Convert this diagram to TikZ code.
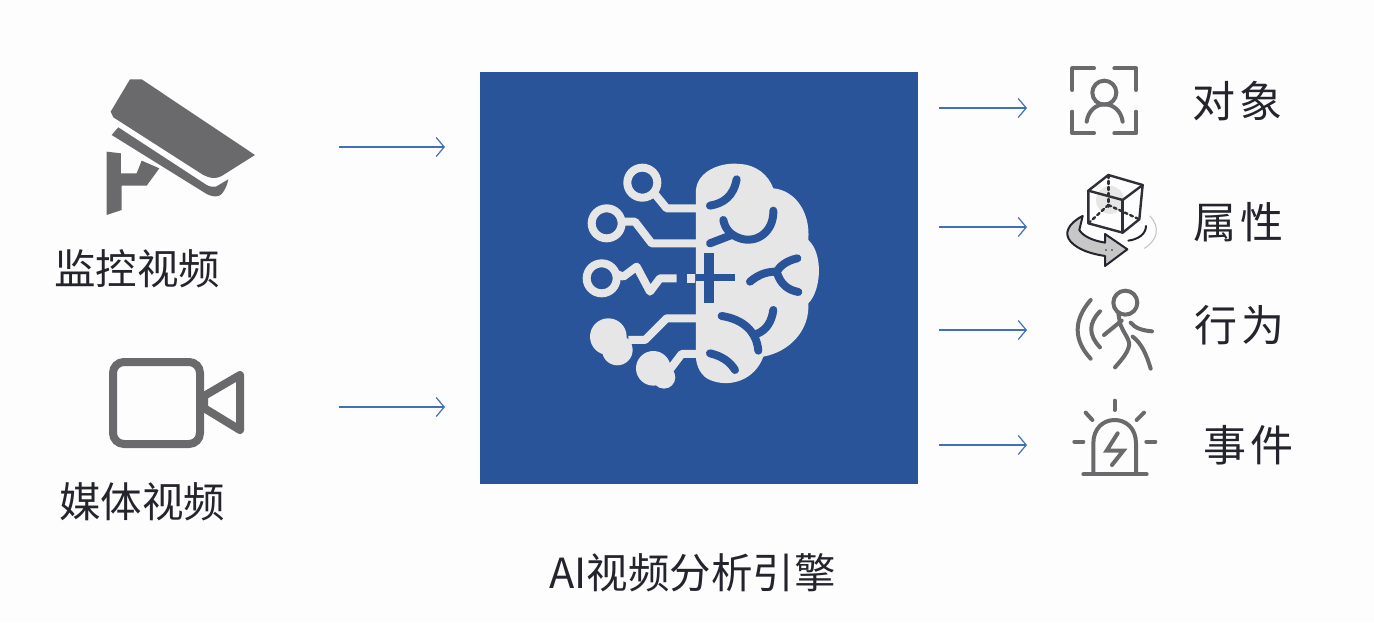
\documentclass[tikz,border=0pt]{standalone}
\usepackage{fontspec}
\setmainfont{Noto Sans CJK SC}
\usetikzlibrary{arrows.meta}
\definecolor{bluebox}{HTML}{29549A}
\definecolor{lightg}{HTML}{E6E6E6}
\definecolor{gicon}{HTML}{6A6A6C}
\definecolor{garrow}{HTML}{3F70B8}
\definecolor{txt}{HTML}{24242C}
\definecolor{bgc}{HTML}{FDFDFE}
\tikzset{
  flow/.style={draw=garrow,line width=1.2pt,-{Straight Barb[length=8pt,width=19pt,line width=1.2pt]}},
  lab/.style={text=txt,inner sep=0pt,font=\fontsize{41.5}{42}\selectfont},
  labw/.style={text=txt,inner sep=0pt,font=\fontsize{43}{43}\selectfont},
  circ/.style={draw=lightg,line width=8pt,line join=round},
  brainline/.style={draw=bluebox,line width=8pt,line cap=round},
  ico/.style={draw=gicon,line width=4pt,line cap=round,line join=round},
  icothin/.style={draw=txt!85!gicon,line width=2.4pt,line cap=round,line join=round}
}
\begin{document}
\begin{tikzpicture}[x=1pt,y=-1pt]
\useasboundingbox (0,0) rectangle (1374,622);
\fill[bgc] (0,0) rectangle (1374,622);
\node[draw=bluebox,fill=bluebox,line width=0.5pt,minimum width=437pt,minimum height=411pt,inner sep=0pt] (engine) at (698.5,277.5) {};

% brain
\begin{scope}[shift={(560,140)},x=0.3333pt,y=-0.3333pt]
\fill[lightg] (408,150) .. controls (412,95) and (480,65) .. (540,72) .. controls (590,75) and (625,105) .. (640,145)
 .. controls (700,150) and (752,210) .. (745,300) .. controls (790,340) and (785,450) .. (745,490)
 .. controls (750,570) and (690,635) .. (610,650) .. controls (585,720) and (510,745) .. (450,720)
 .. controls (425,710) and (408,680) .. (408,650) -- cycle;
\path[brainline] (530,118) .. controls (520,170) and (490,190) .. (450,197);
\path[brainline] (640,212) .. controls (642,275) and (590,312) .. (540,295) .. controls (510,285) and (495,265) .. (490,240);
\path[brainline] (515,285) -- (450,310);
\path[draw=bluebox,line width=10pt] (448,340) -- (448,490);
\path[draw=bluebox,line width=7.5pt] (408,413) -- (525,413);
\path[brainline] (570,425) .. controls (600,400) and (625,395) .. (650,395);
\path[brainline] (712,355) .. controls (680,362) and (660,378) .. (650,395) .. controls (662,435) and (685,450) .. (715,456);
\path[brainline] (485,528) .. controls (550,538) and (590,575) .. (595,632);
\path[brainline] (640,510) .. controls (635,545) and (620,570) .. (590,582);
\path[brainline] (450,640) .. controls (485,648) and (510,665) .. (525,690);
% circuit lines
\draw[circ] (247,128) circle (45);
\draw[circ] (140,250) circle (45);
\draw[circ] (125,415) circle (45);
\draw[circ] (283,160) -- (320,205) -- (408,205);
\draw[circ] (183,245) -- (225,245) -- (275,310) -- (408,310);
\draw[circ] (165,400) -- (190,410) -- (230,380) -- (270,455) -- (300,415) -- (350,415);
\fill[lightg] (380,403) rectangle (405,428);
\fill[lightg] (145,590) circle (55) (172,630) circle (46);
\draw[circ] (205,600) -- (255,600) -- (320,535) -- (408,535);
\fill[lightg] (280,685) circle (52) (312,712) circle (34);
\draw[circ] (325,695) -- (365,642) -- (408,642);
\end{scope}

% cctv camera
\begin{scope}[shift={(90,70)},x=0.3333pt,y=-0.3333pt]
\fill[gicon] (120,28) -- (155,28) -- (495,255) -- (395,318) .. controls (375,328) and (360,325) .. (340,315) -- (70,142) -- (62,125) -- cycle;
\fill[gicon] (85,172) -- (65,195) -- (350,372) .. controls (370,382) and (385,382) .. (395,372) .. controls (405,360) and (412,345) .. (415,328) -- (378,350) .. controls (370,352) and (360,350) .. (350,345) -- cycle;
\fill[gicon] (50,245) -- (93,250) -- (93,310) -- (140,310) -- (155,272) -- (208,295) -- (170,347) -- (95,347) -- (95,420) -- (50,435) -- cycle;
\end{scope}

% video camera
\draw[draw=gicon,line width=8pt,rounded corners=11pt] (113,362) rectangle (200,444);
\draw[draw=gicon,line width=8pt,line join=round] (204,396) -- (240,375) -- (240,430) -- (204,408) -- cycle;

% person
\begin{scope}[shift={(1050,50)},x=0.3333pt,y=-0.3333pt]
\path[ico] (67,120) -- (67,55) -- (132,55);
\path[ico] (193,55) -- (258,55) -- (258,120);
\path[ico] (67,185) -- (67,250) -- (132,250);
\path[ico] (258,185) -- (258,250) -- (193,250);
\draw[ico] (163,128) circle (36);
\path[ico] (110,215) .. controls (115,180) and (140,163) .. (163,163) .. controls (188,163) and (213,180) .. (218,215);
% cube
\fill[lightg] (180,450) ellipse (42 and 42);
\path[icothin] (175,375) -- (278,405) -- (268,508) -- (218,548) -- (115,520) -- (115,422) -- cycle;
\path[icothin] (115,422) -- (218,450) -- (278,405);
\path[icothin] (218,450) -- (218,548);
\path[icothin,dashed] (175,375) -- (175,470);
\path[icothin,dashed] (175,465) -- (115,520);
\path[icothin,dashed] (175,465) -- (268,508);
\fill[lightg!75!gicon,draw=txt,line width=2pt,line join=round] (98,498) .. controls (55,520) and (40,550) .. (62,575) .. controls (85,600) and (125,612) .. (165,618) -- (165,648) -- (232,598) -- (165,552) -- (165,578) .. controls (130,572) and (100,560) .. (88,540) -- cycle;
\path[draw=txt,line width=2pt,line cap=round] (235,572) .. controls (265,568) and (288,552) .. (288,528);
\path[draw=lightg!70!gicon,line width=1pt,line cap=round] (300,498) .. controls (330,530) and (325,570) .. (283,595);
\fill[txt] (168,600) circle (2.5) (186,600) circle (2.5);
\end{scope}

% walker
\begin{scope}[shift={(1050,280)},x=0.3333pt,y=-0.3333pt]
\draw[ico] (226,68) circle (36);
\path[ico] (122,60) .. controls (70,120) and (70,180) .. (122,236);
\path[ico] (150,94) .. controls (115,130) and (115,165) .. (150,202);
\path[ico] (205,100) -- (210,130) .. controls (222,165) and (245,180) .. (235,205) .. controls (228,225) and (210,245) .. (195,262);
\path[ico] (215,122) -- (162,165);
\path[ico] (242,128) .. controls (255,145) and (280,152) .. (306,154);
\path[ico] (248,170) .. controls (275,190) and (290,225) .. (302,266);
% alarm
\path[ico] (194,362) -- (194,390);
\path[ico] (107,398) -- (127,420);
\path[ico] (282,398) -- (260,420);
\path[ico] (73,485) -- (100,485);
\path[ico] (289,485) -- (316,485);
\path[ico] (130,582) -- (130,490) .. controls (130,445) and (160,420) .. (194,420) .. controls (228,420) and (258,445) .. (258,490) -- (258,582);
\path[ico] (100,583) -- (290,583);
\path[ico,line join=miter] (203,460) -- (170,512) -- (220,512) -- (186,555);
\end{scope}

% anchors and arrows
\coordinate (s1) at (339,147);
\coordinate (s2) at (339,407);
\coordinate (e1) at (445,147);
\coordinate (e2) at (445,407);
\coordinate (o1) at (939,108); \coordinate (t1) at (1027,108);
\coordinate (o2) at (939,227); \coordinate (t2) at (1027,227);
\coordinate (o3) at (939,330); \coordinate (t3) at (1027,330);
\coordinate (o4) at (939,445); \coordinate (t4) at (1027,445);
\draw[flow] (s1) -- (e1);
\draw[flow] (s2) -- (e2);
\draw[flow] (o1) -- (t1);
\draw[flow] (o2) -- (t2);
\draw[flow] (o3) -- (t3);
\draw[flow] (o4) -- (t4);

% labels
\node[lab] (l1) at (137,269) {监控视频};
\node[lab] (l2) at (142,502) {媒体视频};
\node[lab] (l3) at (692.5,573) {AI视频分析引擎};
\node[labw] (r1) at (1237,101) {对\kern4pt 象};
\node[labw] (r2) at (1238,222) {属\kern4pt 性};
\node[labw] (r3) at (1239,325) {行\kern4pt 为};
\node[labw] (r4) at (1248,445) {事\kern4pt 件};
\end{tikzpicture}
\end{document}
